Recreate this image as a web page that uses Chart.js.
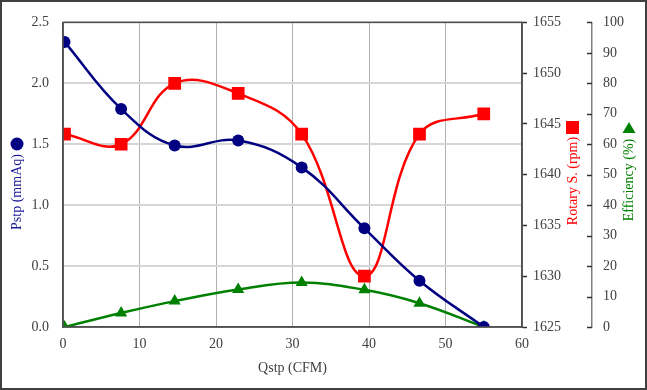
<!DOCTYPE html>
<html>
<head>
<meta charset="utf-8">
<script src="https://cdn.jsdelivr.net/npm/chart.js@4"></script>
<style>
	html, body { margin: 0; padding: 0; background: #fff; }
	#wrap { width: 647px; height: 390px; position: relative; }
</style>
</head>
<body>
<div id="wrap"><canvas id="chart" width="647" height="390"></canvas></div>
<script>
// flow (CFM)
const qstp = [0.2, 7.6, 14.6, 22.9, 31.2, 39.4, 46.6, 55.0];
// static pressure (mmAq)
const pstp = [2.34, 1.79, 1.49, 1.53, 1.31, 0.81, 0.38, 0.0];
// rotary speed (rpm)
const rpm = [1644, 1643, 1649, 1648, 1644, 1630, 1644, 1646];
// efficiency (%)
const eff = [0, 4.6, 8.5, 12.3, 14.6, 12.2, 7.8, 0];

const xTicks = [0, 10, 20, 30, 40, 50, 60];

const NAVY = '#000080';
const RED = '#ff0000';
const GREEN = '#008000';
const AXIS = '#505050';
const FONT = 'Liberation Serif, Times New Roman, serif';

const toPoints = ys => qstp.map((x, i) => ({ x: x, y: ys[i] }));

// box, inward ticks on efficiency axis, rotated titles with markers
const decorations = {
	id: 'decorations',
	afterDraw(chart) {
		const { ctx, chartArea: a, scales } = chart;
		ctx.save();
		// plot box
		ctx.strokeStyle = AXIS;
		ctx.lineWidth = 1.5;
		ctx.strokeRect(a.left, a.top, a.right - a.left, a.bottom - a.top);

		// efficiency ticks pointing left
		const y3 = scales.y3;
		ctx.strokeStyle = '#303030';
		ctx.lineWidth = 1.5;
		y3.ticks.forEach(t => {
			const py = Math.round(y3.getPixelForValue(t.value)) + 0.5;
			ctx.beginPath();
			ctx.moveTo(y3.left - 5, py);
			ctx.lineTo(y3.left, py);
			ctx.stroke();
		});

		ctx.font = '14px ' + FONT;
		ctx.textAlign = 'center';
		ctx.textBaseline = 'middle';
		function vtext(text, x, y, color) {
			ctx.save();
			ctx.translate(x, y);
			ctx.rotate(-Math.PI / 2);
			ctx.fillStyle = color;
			ctx.fillText(text, 0, 0);
			ctx.restore();
		}
		// x title
		ctx.fillStyle = '#404040';
		ctx.fillText('Qstp (CFM)', (a.left + a.right) / 2, 368);

		// left title
		vtext('Pstp (mmAq)', 17, 192, '#1a1a96');
		ctx.fillStyle = NAVY;
		ctx.beginPath();
		ctx.arc(17, 144, 6.5, 0, Math.PI * 2);
		ctx.fill();

		// rotary title
		vtext('Rotary S. (rpm)', 573, 181, RED);
		ctx.fillStyle = RED;
		ctx.fillRect(566, 121, 13, 13);

		// efficiency title
		vtext('Efficiency (%)', 629, 180, GREEN);
		ctx.fillStyle = GREEN;
		ctx.beginPath();
		ctx.moveTo(629, 122);
		ctx.lineTo(635.5, 133);
		ctx.lineTo(622.5, 133);
		ctx.closePath();
		ctx.fill();

		// outer frame
		ctx.strokeStyle = '#404040';
		ctx.lineWidth = 2;
		ctx.strokeRect(1, 1, chart.width - 2, chart.height - 2);
		ctx.restore();
	},
};

const tickFont = { family: FONT, size: 14 };

const config = {
	type: 'line',
	data: {
		datasets: [
			{
				label: 'Pstp',
				data: toPoints(pstp),
				yAxisID: 'y',
				borderColor: NAVY,
				backgroundColor: NAVY,
				borderWidth: 2.5,
				pointStyle: 'circle',
				pointRadius: 6,
				pointBorderWidth: 0,
				tension: 0.4,
			},
			{
				label: 'Rotary S.',
				data: toPoints(rpm),
				yAxisID: 'y2',
				borderColor: RED,
				backgroundColor: RED,
				borderWidth: 2.5,
				pointStyle: 'rect',
				pointRadius: 9,
				pointBorderWidth: 0,
				tension: 0.4,
			},
			{
				label: 'Efficiency',
				data: toPoints(eff),
				yAxisID: 'y3',
				borderColor: GREEN,
				backgroundColor: GREEN,
				borderWidth: 2.5,
				pointStyle: 'triangle',
				pointRadius: 7,
				pointBorderWidth: 0,
				tension: 0.4,
			},
		],
	},
	options: {
		responsive: false,
		animation: false,
		layout: {
			padding: { top: 19, left: 0, right: 0, bottom: 0 },
		},
		scales: {
			x: {
				type: 'linear',
				min: 0,
				max: 60,
				afterBuildTicks: scale => {
					scale.ticks = xTicks.map(v => ({ value: v }));
				},
				ticks: { font: tickFont, color: '#404040', padding: 9 },
				grid: { color: '#b0b0b0', lineWidth: 1, drawTicks: false },
				border: { color: AXIS, width: 1.5 },
				afterFit: s => { s.height = 63; },
			},
			y: {
				position: 'left',
				min: 0,
				max: 2.5,
				ticks: {
					stepSize: 0.5,
					font: tickFont,
					color: '#404040',
					padding: 14,
					callback: v => v.toFixed(1),
				},
				grid: { color: '#d6d6d6', lineWidth: 2, drawTicks: false },
				border: { color: AXIS, width: 1.5 },
				afterFit: s => { s.width = 63; },
			},
			y2: {
				position: 'right',
				min: 1625,
				max: 1655,
				ticks: {
					stepSize: 5,
					font: tickFont,
					color: '#404040',
					padding: 6,
					callback: v => String(v),
				},
				grid: {
					drawOnChartArea: false,
					drawTicks: true,
					tickLength: 5,
					tickColor: '#303030',
					tickWidth: 1.5,
				},
				border: { color: AXIS, width: 1.5 },
				afterFit: s => { s.width = 70; },
			},
			y3: {
				position: 'right',
				min: 0,
				max: 100,
				ticks: { stepSize: 10, font: tickFont, color: '#404040', padding: 11 },
				grid: { drawOnChartArea: false, drawTicks: false },
				border: { color: '#808080', width: 1.5 },
				afterFit: s => { s.width = 55; },
			},
		},
		plugins: {
			legend: { display: false },
			tooltip: { enabled: false },
		},
	},
	plugins: [decorations],
};

const myChart = new Chart(document.getElementById('chart'), config);
</script>
</body>
</html>
